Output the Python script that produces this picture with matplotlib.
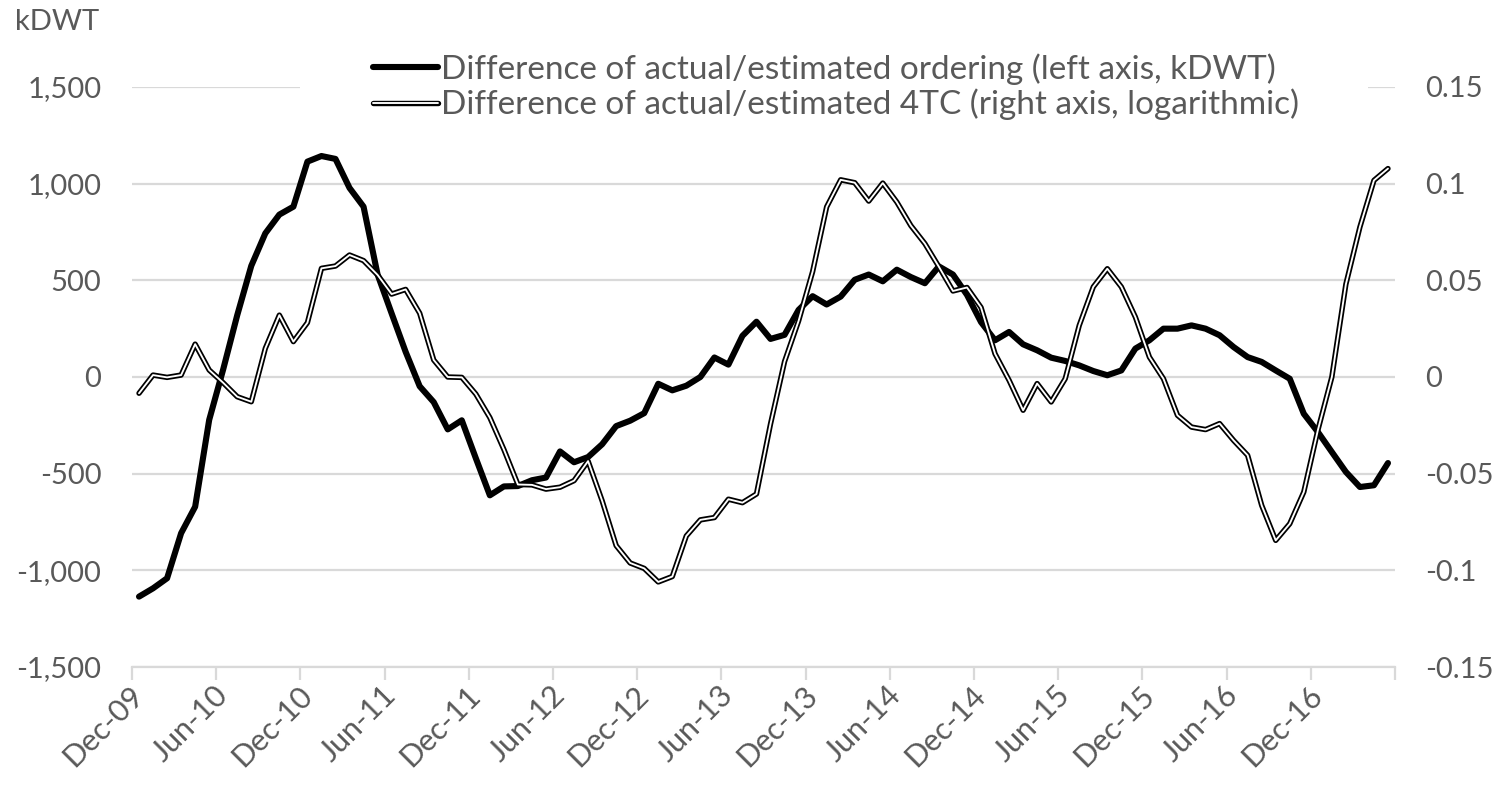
import matplotlib
matplotlib.use("Agg")
import matplotlib.pyplot as plt
import matplotlib.patheffects as pe
from matplotlib.patches import Rectangle
from matplotlib.lines import Line2D
from matplotlib.ticker import FixedLocator, FuncFormatter
import numpy as np
import pandas as pd

plt.rcParams['font.family'] = ['Lato', 'DejaVu Sans']

# ---------------- data ----------------
categories = list(pd.date_range('2009-12-01', periods=90, freq='MS').strftime('%b-%y'))

ordering = [-1136, -1093, -1041, -808, -671, -222, 40, 320, 575, 743,
            840, 881, 1114, 1143, 1128, 978, 881, 530, 329, 130,
            -48, -130, -271, -224, -420, -612, -566, -564, -534, -520,
            -385, -441, -414, -348, -254, -226, -187, -35, -69, -45,
            0, 101, 64, 213, 286, 197, 218, 347, 418, 375,
            416, 503, 530, 495, 555, 517, 485, 572, 530, 425,
            284, 190, 233, 169, 138, 100, 83, 60, 31, 9,
            34, 147, 190, 250, 250, 267, 250, 216, 155, 103,
            78, 34, -9, -190, -284, -388, -491, -569, -560, -445]

tc4 = [-0.0084, 0.001, -0.0002, 0.001, 0.017, 0.0036, -0.003, -0.0102, -0.0128, 0.0148,
       0.032, 0.0183, 0.0281, 0.0562, 0.0574, 0.0631, 0.0602, 0.0528, 0.0429, 0.0453,
       0.033, 0.0088, 0.0, -0.0002, -0.0088, -0.021, -0.0375, -0.0556, -0.0558, -0.058,
       -0.057, -0.0536, -0.0435, -0.064, -0.0872, -0.0962, -0.099, -0.106, -0.1032, -0.0822,
       -0.0739, -0.0727, -0.0632, -0.065, -0.0605, -0.0243, 0.008, 0.029, 0.0545, 0.088,
       0.102, 0.1005, 0.091, 0.1003, 0.0905, 0.0783, 0.069, 0.057, 0.0445, 0.0463,
       0.036, 0.012, -0.0017, -0.0172, -0.0034, -0.0129, -0.0009, 0.0267, 0.0466, 0.056,
       0.0466, 0.031, 0.0103, -0.0009, -0.0198, -0.0259, -0.0272, -0.0241, -0.0328, -0.0405,
       -0.0664, -0.0845, -0.0759, -0.0595, -0.0276, 0.0, 0.048, 0.0776, 0.1017, 0.1078]

left_ticks = [-1500, -1000, -500, 0, 500, 1000, 1500]
right_ticks = [-0.15, -0.1, -0.05, 0, 0.05, 0.1, 0.15]
label_every = 6

series_names = ['Difference of actual/estimated ordering (left axis, kDWT)',
                'Difference of actual/estimated 4TC (right axis, logarithmic)']

# ---------------- styling ----------------
TEXT = '#595959'
GRID = '#d9d9d9'
FS = 21
LEG_FS = 24

W, H = 1499, 790
fig = plt.figure(figsize=(W / 100, H / 100), dpi=100)
ax_l, ax_r, ax_t, ax_b = 132, 1395, 87, 667
ax = fig.add_axes([ax_l / W, 1 - ax_b / H, (ax_r - ax_l) / W, (ax_b - ax_t) / H])
ax2 = ax.twinx()

x = np.arange(len(categories))
ax.plot(x, ordering, color='black', lw=4.4, solid_joinstyle='round',
        solid_capstyle='round', zorder=3)
thin_fx = [pe.Stroke(linewidth=3.9, foreground='black', joinstyle='round', capstyle='round'), pe.Normal()]
ax2.plot(x, tc4, color='white', lw=1.35, solid_joinstyle='round', solid_capstyle='round',
         path_effects=thin_fx, zorder=3)

ax.set_xlim(-0.5, len(categories) - 0.5)
ax.set_ylim(left_ticks[0], left_ticks[-1])
ax2.set_ylim(right_ticks[0], right_ticks[-1])

ax.set_axisbelow(True)
ax.yaxis.set_major_locator(FixedLocator(left_ticks))
ax.yaxis.set_major_formatter(FuncFormatter(lambda v, p: f'{v:,.0f}'))
ax2.yaxis.set_major_locator(FixedLocator(right_ticks))
ax2.yaxis.set_major_formatter(FuncFormatter(lambda v, p: '0' if abs(v) < 1e-12 else f'{v:g}'))
ax.grid(axis='y', color=GRID, lw=1.6, zorder=0)

lab_pos = x[::label_every]
ax.set_xticks(lab_pos)
ax.set_xticklabels([categories[i] for i in lab_pos], rotation=45, ha='right',
                   va='center', rotation_mode='anchor')
ax.set_xticks(np.arange(-0.5, len(categories), label_every), minor=True)
ax.tick_params(axis='x', which='major', length=0, pad=17, labelsize=22, labelcolor=TEXT)
ax.tick_params(axis='x', which='minor', length=9, width=1.6, color=GRID)
ax.tick_params(axis='y', length=0, pad=22, labelsize=FS, labelcolor=TEXT)
ax2.tick_params(axis='y', length=0, pad=22, labelsize=FS, labelcolor=TEXT)

for s in ['top', 'left', 'right']:
    ax.spines[s].set_visible(False)
ax.spines['bottom'].set_color(GRID)
ax.spines['bottom'].set_linewidth(1.6)
for s in ax2.spines.values():
    s.set_visible(False)

# white legend background hiding top gridline
fig.patches.append(Rectangle((300 / W, 1 - 136 / H), 1068 / W, 94 / H,
                             transform=fig.transFigure, facecolor='white',
                             edgecolor='none', zorder=5))

h1 = Line2D([], [], color='black', lw=4.4, solid_capstyle='round')
h2 = Line2D([], [], color='white', lw=1.35, solid_capstyle='round', path_effects=thin_fx)
leg = fig.legend([h1, h2], series_names, loc='upper left',
                 bbox_to_anchor=(373 / W, 1 - 53 / H), frameon=False,
                 fontsize=LEG_FS, handlelength=1.95, handletextpad=0.08,
                 labelspacing=0.12, borderpad=0, borderaxespad=0)
for t in leg.get_texts():
    t.set_color(TEXT)
leg.set_zorder(6)

fig.text(15 / W, 1 - 22 / H, 'kDWT', ha='left', va='center', fontsize=FS, color=TEXT)

fig.savefig('out.png', dpi=100)
